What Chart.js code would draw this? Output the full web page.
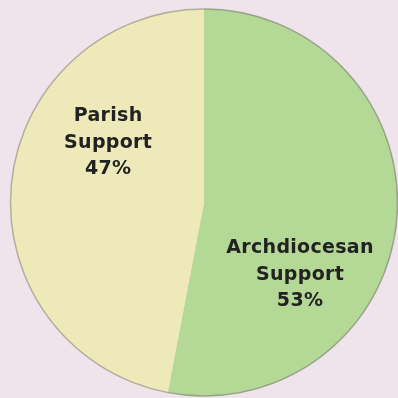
<!DOCTYPE html>
<html lang="en">
  <head>
    <title>Support Split</title>
    <script src="https://cdn.jsdelivr.net/npm/chart.js"></script>
    <style>
      html, body { margin: 0; padding: 0; background: #efe4ec; }
      #wrap { width: 398px; height: 398px; position: relative; }
    </style>
  </head>
  <body>
    <div id="wrap"><canvas id="supportChart"></canvas></div>

    <script>
      // chart data
      const categories = ["Archdiocesan Support", "Parish Support"];
      const labelLines = [["Archdiocesan", "Support"], ["Parish", "Support"]];
      const shares = [53, 47];
      const sliceColors = ["#b4d896", "#ede9b9"];

      // where each label sits: angle clockwise from top (deg), fraction of radius
      const labelSpots = [
        { angle: 127, dist: 0.62 },
        { angle: 302, dist: 0.583 },
      ];

      const edgePlugin = {
        id: "edge",
        afterDatasetsDraw(chart) {
          const arc = chart.getDatasetMeta(0).data[0];
          const c = chart.ctx;
          c.save();
          c.beginPath();
          c.arc(arc.x, arc.y, arc.outerRadius - 0.5, 0, Math.PI * 2);
          c.strokeStyle = "rgba(110, 100, 110, 0.45)";
          c.lineWidth = 1.5;
          c.stroke();
          c.restore();
        },
      };

      const labelPlugin = {
        id: "sliceLabels",
        afterDatasetsDraw(chart) {
          const meta = chart.getDatasetMeta(0);
          const c = chart.ctx;
          c.save();
          c.font = "bold 19px 'DejaVu Sans'";
          c.letterSpacing = "0.3px";
          c.fillStyle = "#222222";
          c.textAlign = "center";
          c.textBaseline = "middle";
          meta.data.forEach((arc, i) => {
            const spot = labelSpots[i];
            const a = (spot.angle * Math.PI) / 180;
            const r = arc.outerRadius * spot.dist;
            const x = arc.x + Math.sin(a) * r;
            const y = arc.y - Math.cos(a) * r;
            const lines = labelLines[i].concat([shares[i] + "%"]);
            const lh = 26.5;
            lines.forEach((t, k) => {
              c.fillText(t, x, y + (k - (lines.length - 1) / 2) * lh);
            });
          });
          c.restore();
        },
      };

      const ctx = document.getElementById("supportChart").getContext("2d");
      const chart = new Chart(ctx, {
        type: "pie",
        data: {
          labels: categories,
          datasets: [
            {
              data: shares,
              backgroundColor: sliceColors,
              borderWidth: 0,
            },
          ],
        },
        options: {
          responsive: true,
          maintainAspectRatio: false,
          animation: false,
          layout: { padding: { left: 10, right: 0, top: 8, bottom: 1 } },
          plugins: {
            legend: { display: false },
            tooltip: { enabled: false },
          },
        },
        plugins: [edgePlugin, labelPlugin],
      });
    </script>
  </body>
</html>
